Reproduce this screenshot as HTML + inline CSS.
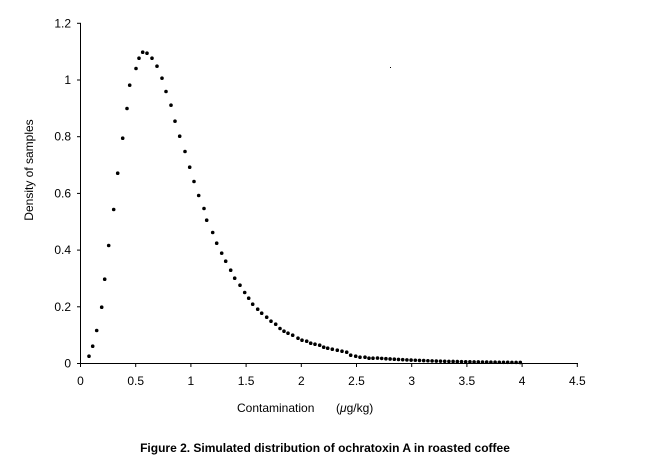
<!DOCTYPE html>
<html><head><style>body{margin:0;background:#fff}svg{display:block}text{font-family:"Liberation Sans",Arial,sans-serif;font-size:12px;fill:#000}</style></head>
<body>
<svg width="650" height="474" xmlns="http://www.w3.org/2000/svg">
<g stroke="#000" stroke-width="1">
<line x1="80.5" y1="23" x2="80.5" y2="364"/>
<line x1="80" y1="363.5" x2="578" y2="363.5"/>
<g id="yt"></g><g id="xt"></g>
</g>
<g id="ylab"></g><g id="xlab"></g>
<g id="dots"></g>
<rect x="390" y="67" width="1" height="1" fill="#000"/>
<text transform="translate(33,170) rotate(-90)" text-anchor="middle">Density of samples</text>
<text x="237" y="412">Contamination</text>
<text x="336" y="412">(<tspan font-style="italic">μ</tspan>g/kg)</text>
<text x="325" y="452" text-anchor="middle" font-weight="bold">Figure 2.  Simulated distribution of ochratoxin A in roasted coffee</text>
</svg>
<script>
var ns="http://www.w3.org/2000/svg";
function el(p,t,a,tx){var e=document.createElementNS(ns,t);for(var k in a)e.setAttribute(k,a[k]);if(tx!=null)e.textContent=tx;document.getElementById(p).appendChild(e);}
var X=function(v){return 80.5+v*110.4},Y=function(v){return 363.5-v*283.5};
["0","0.2","0.4","0.6","0.8","1","1.2"].forEach(function(s,i){var y=Y(i*0.2);el("yt","line",{x1:77,x2:81,y1:y,y2:y});el("ylab","text",{x:71,y:y+4,"text-anchor":"end"},s);});
["0","0.5","1","1.5","2","2.5","3","3.5","4","4.5"].forEach(function(s,i){var x=X(i*0.5);el("xt","line",{x1:x,x2:x,y1:363,y2:367});el("xlab","text",{x:x,y:385,"text-anchor":"middle"},s);});
var P=[[89,356.7],[92.7,346.7],[96.7,331],[101.7,307.7],[104.7,279.7],[108.7,246],[113.7,210],[117.7,173.7],[122.7,138.7],[127,109],[129.7,85.7],[136,69],[139,58.7],[142.7,52.7],[147,53.7],[152,58.7],[157,66.7],[162,78.7],[166,92],[171,105.7],[175,121.7],[179.7,136.7],[185,152],[189.7,167.7],[194,182],[198.7,196],[204,209],[206.7,220.7],[212.7,233],[216.7,243.7],[221.7,253.7],[225.7,261.7],[230.7,270.7],[234.7,278.7],[240,285.7],[244.7,293],[248.7,298.7],[252.7,304.7],[257.7,309.7],[261.7,313.7],[266.7,317.7],[271,321.7],[275.7,324.7],[280,329],[284,331.7],[288,333.7],[292.7,335.7],[298,338.7],[302,340.7],[306.7,341.7],[310.7,343.7],[315,344.7],[319.7,345.7],[323.7,347.7],[327.7,348.7],[332.3,349.7],[337.3,350.7],[342,351.7],[346.7,352.7],[350.7,355.7],[355.7,356.7],[360,357.7],[365,357.7],[369,358.7],[373,358.7]];
P.forEach(function(p){el("dots","circle",{cx:p[0],cy:p[1]-0.5,r:1.8,fill:"#000"});});
for(var x=377.5;x<=522;x+=4.2){var v=(x-80.5)/110.4;var d=0.017*Math.exp(-(v-2.7)*1.7);el("dots","circle",{cx:x,cy:Y(d)-0.5,r:1.8,fill:"#000"});}
</script>
</body></html>
